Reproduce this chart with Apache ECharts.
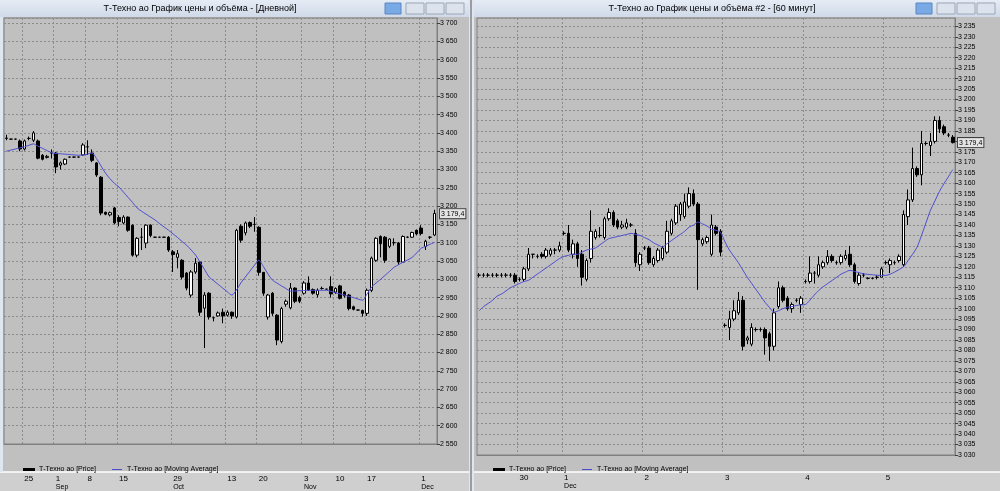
<!DOCTYPE html>
<html>
<head>
<meta charset="utf-8">
<script src="https://cdn.jsdelivr.net/npm/echarts@6/dist/echarts.min.js"></script>
<style>
  html, body { margin: 0; padding: 0; background: #c0c0c0; }
  #chart { width: 1000px; height: 491px; }
</style>
</head>
<body>
<div id="chart"></div>
<script>
// daily candles [open, close, low, high]
var dayCandles = [
  [3385,3386,3380,3395],[3383,3383,3382,3384],[3383,3383,3382,3384],[3378,3356,3350,3382],
  [3356,3378,3352,3382],[3385,3385,3380,3390],[3380,3400,3375,3405],[3378,3331,3328,3382],
  [3339,3328,3325,3342],[3333,3336,3330,3340],[3345,3345,3330,3355],[3345,3307,3290,3348],
  [3312,3318,3300,3322],[3315,3328,3312,3330],[3334,3334,3333,3335],[3334,3334,3333,3335],
  [3334,3334,3333,3335],[3340,3367,3338,3372],[3362,3362,3340,3380],[3345,3325,3320,3355],
  [3318,3285,3280,3320],[3279,3181,3175,3282],[3183,3178,3175,3185],[3176,3182,3172,3185],
  [3195,3154,3150,3198],[3169,3158,3145,3175],[3154,3170,3150,3175],[3170,3134,3130,3172],
  [3148,3066,3062,3150],[3066,3112,3060,3115],[3115,3115,3080,3140],[3099,3148,3085,3150],
  [3148,3120,3115,3150],[3115,3115,3114,3116],[3115,3115,3114,3116],[3115,3115,3114,3116],
  [3115,3080,3075,3118],[3075,3068,3020,3080],[3060,3070,3030,3080],[3052,3006,3000,3055],
  [3017,2976,2970,3020],[2957,3020,2950,3025],[3020,3044,3015,3058],[3047,2910,2900,3050],
  [2921,2957,2812,2965],[2962,2897,2890,2965],[2895,2895,2885,2898],[2900,2908,2898,2912],
  [2910,2900,2880,2920],[2902,2910,2898,2915],[2910,2900,2892,2912],[2897,3134,2893,3138],
  [3145,3107,3100,3150],[3127,3154,3120,3158],[3155,3145,3140,3158],[3150,3150,3130,3170],
  [3142,3019,3010,3145],[3019,2962,2955,3020],[2897,2957,2890,2960],[2962,2907,2900,2965],
  [2902,2834,2820,2905],[2830,2920,2825,2925],[2932,2940,2925,2945],[2922,2976,2918,2990],
  [2976,2940,2935,2978],[2950,2940,2935,2955],[2962,2990,2958,2995],[2990,2971,2968,3008],
  [2972,2962,2958,2975],[2958,2970,2950,2975],[2975,2975,2972,2980],[2973,2973,2972,2974],
  [2980,2960,2950,3008],[2965,2975,2960,2978],[2982,2948,2945,2985],[2965,2955,2950,2968],
  [2957,2920,2915,2960],[2925,2918,2915,2928],[2916,2916,2915,2917],[2915,2907,2898,2917],
  [2907,2970,2900,2975],[2970,3058,2965,3062],[3052,3112,3048,3115],[3117,3097,3060,3120],
  [3115,3052,3045,3118],[3090,3110,3085,3112],[3100,3100,3092,3112],[3099,3047,3040,3102],
  [3047,3117,3045,3120],[3115,3115,3113,3117],[3115,3128,3113,3130],[3134,3124,3120,3136],
  [3140,3125,3120,3148],[3090,3104,3080,3108],[3115,3115,3110,3118],[3121,3180,3118,3190]
];
var dayMA = [
  3350,3353,3356,3359,3362,3366,3370,3364,3358,3352,3346,3344,3343,3342,3341,3340,3339,
  3339,3342,3345,3330,3310,3290,3275,3262,3252,3238,3224,3210,3195,3186,3178,3170,3162,
  3152,3143,3134,3124,3114,3103,3093,3080,3066,3046,3026,3006,2996,2986,2976,2966,2957,
  2970,2990,3006,3022,3038,3052,3035,3015,2998,2990,2982,2975,2968,2968,2969,2969,2970,
  2970,2970,2970,2970,2967,2963,2960,2957,2953,2950,2946,2943,2960,2979,2990,3000,3011,
  3022,3033,3040,3047,3053,3060,3072,3085,3090,3096,3101
];
var dayTickIdx = [4, 11, 18, 25, 37, 49, 56, 66, 73, 80, 92];
var dayTickLbl = ['25', '1', '8', '15', '29', '13', '20', '3', '10', '17', '1'];
var dayMonthIdx = [11, 37, 66, 92];
var dayMonthLbl = ['Sep', 'Oct', 'Nov', 'Dec'];

// hourly candles [open, close, low, high]
var hourCandles = [
  [3116,3116,3115,3117],[3116,3116,3115,3117],[3116,3116,3115,3117],[3116,3116,3115,3117],
  [3116,3116,3115,3117],[3116,3116,3115,3117],[3116,3116,3115,3117],[3116,3116,3115,3117],
  [3116,3113,3112,3117],[3114,3114,3113,3115],[3114,3119,3113,3120],[3119,3126,3118,3129],
  [3126,3126,3124,3126],[3125,3125,3124,3126],[3126,3125,3124,3127],[3125,3128,3124,3129],
  [3126,3128,3125,3129],[3128,3128,3126,3129],[3128,3130,3127,3132],[3136,3136,3135,3137],
  [3136,3128,3127,3140],[3126,3131,3124,3133],[3131,3124,3120,3132],[3126,3115,3111,3128],
  [3114,3123,3113,3124],[3124,3137,3122,3147],[3134,3137,3133,3138],[3135,3135,3134,3139],
  [3134,3143,3133,3144],[3143,3146,3142,3148],[3146,3140,3139,3147],[3142,3139,3138,3143],
  [3139,3140,3138,3142],[3139,3141,3138,3143],[3140,3140,3139,3141],[3136,3122,3120,3138],
  [3121,3126,3118,3127],[3129,3129,3128,3130],[3129,3122,3121,3130],[3121,3124,3120,3125],
  [3123,3128,3122,3129],[3124,3129,3123,3130],[3127,3137,3126,3142],[3136,3142,3135,3143],
  [3141,3149,3140,3150],[3145,3150,3142,3151],[3144,3151,3143,3155],[3149,3155,3148,3158],
  [3155,3150,3149,3157],[3150,3133,3109,3151],[3131,3133,3130,3134],[3132,3134,3131,3135],
  [3126,3140,3125,3145],[3139,3136,3135,3140],[3137,3127,3125,3138],[3092,3092,3091,3093],
  [3091,3095,3085,3099],[3095,3099,3094,3104],[3098,3104,3097,3108],[3104,3082,3080,3106],
  [3085,3086,3083,3087],[3083,3091,3082,3093],[3090,3090,3089,3091],[3090,3090,3089,3091],
  [3090,3086,3078,3091],[3088,3082,3075,3089],[3082,3098,3080,3100],[3101,3110,3100,3113],
  [3110,3104,3103,3111],[3105,3100,3099,3106],[3100,3102,3098,3103],[3104,3104,3103,3105],
  [3102,3105,3098,3106],[3113,3113,3112,3114],[3113,3117,3112,3125],[3117,3117,3112,3118],
  [3116,3121,3115,3125],[3120,3122,3119,3123],[3122,3125,3121,3128],[3125,3123,3122,3126],
  [3122,3122,3121,3123],[3122,3125,3121,3126],[3124,3125.5,3123,3128],[3126,3121,3120,3130],
  [3121,3113,3112,3122],[3112,3116,3111,3117],[3116,3116,3115,3117],[3114.5,3114.5,3114,3115],
  [3114.5,3114.5,3114,3115],[3115,3115,3114,3116],[3115,3119,3115,3120],[3122,3122,3121,3123],
  [3121,3123,3117,3124],[3122,3122,3121,3123],[3123,3125,3122,3126],[3121,3145,3120,3147],
  [3144,3152,3140,3157],[3152,3167,3151,3177],[3167,3164,3163,3168],[3164,3179,3159,3185],
  [3179,3179,3178,3180],[3178,3180,3173,3184],[3180,3190,3179,3192],[3190,3186,3184,3192],
  [3187,3184,3183,3188],[3183,3183,3182,3184],[3182,3179.4,3179,3183]
];
var hourMA = [
  3099,3101,3102.5,3104,3106,3107,3108.5,3110,3111,3112,3113,3113.5,3115,3116.5,3118,
  3119.5,3121,3122.5,3124,3125,3125.5,3126,3126,3127,3128,3128.5,3129,3130.5,3132,3133.5,
  3134,3134.5,3135,3135.5,3136,3135.5,3135,3134,3133,3131.5,3130.5,3129.5,3131,3132.5,3134,
  3135.5,3137,3139,3140,3141.4,3140.5,3139.5,3138,3137.5,3136.5,3132,3128,3125,3122,
  3118.5,3115,3112,3109,3106,3103,3100.5,3098.3,3099,3100,3100.7,3101,3101.5,3101.8,3102,
  3104,3106.5,3108.7,3110.5,3112,3113.5,3115,3116.5,3117.5,3118.3,3117.8,3117.2,3116.7,
  3116.4,3116.2,3116,3115.9,3115.9,3116.5,3117.5,3118.7,3120,3123,3126,3129.4,3135,3141,
  3147,3151.5,3156,3159.7,3163,3166.5
];
var hourTickIdx = [9, 19, 37, 55, 73, 91];
var hourTickLbl = ['30', '1', '2', '3', '4', '5'];
var hourMonthIdx = [19];
var hourMonthLbl = ['Dec'];
var lastPrice = 3179.4;

var font = 'Liberation Sans';
var priceName = 'Т-Техно ао [Price]';
var maName = 'Т-Техно ао [Moving Average]';

function fmt(v) {
  var s = String(Math.round(v));
  return s.length > 3 ? s.slice(0, s.length - 3) + ' ' + s.slice(-3) : s;
}
function lookup(idx, lbl) {
  var m = {};
  idx.forEach(function (k, i) { m[k] = lbl[i]; });
  return m;
}

function panel(n, candles, ma, tickIdx, tickLbl, monIdx, monLbl, yMin, yMax, labelMargin, monMargin) {
  var cats = candles.map(function (d, i) { return String(i); });
  var days = lookup(tickIdx, tickLbl);
  var mons = lookup(monIdx, monLbl);
  var xa = [{
    type: 'category', gridIndex: n, data: cats, boundaryGap: true,
    axisLine: { lineStyle: { color: '#808080' } },
    axisTick: { show: false },
    axisLabel: {
      interval: 0, margin: labelMargin, color: '#000', fontSize: 8, fontFamily: font, align: 'left',
      formatter: function (v, i) { return days[i] || ''; }
    },
    splitLine: {
      show: true,
      interval: function (i) { return days[i] !== undefined; },
      lineStyle: { color: '#8c8c8c', type: [2, 2], width: 1 }
    }
  }, {
    type: 'category', gridIndex: n, data: cats, boundaryGap: true, position: 'bottom',
    axisLine: { show: false }, axisTick: { show: false },
    axisLabel: {
      interval: 0, margin: monMargin, color: '#000', fontSize: 7, fontFamily: font, align: 'left',
      formatter: function (v, i) { return mons[i] || ''; }
    }
  }];
  var ya = {
    type: 'value', gridIndex: n, position: 'right', min: yMin, max: yMax,
    interval: n === 0 ? 50 : 5,
    axisLine: { show: true, lineStyle: { color: '#808080' } },
    axisTick: { show: true, length: 3, lineStyle: { color: '#404040' } },
    axisLabel: {
      showMaxLabel: false, margin: 3, color: '#000', fontSize: 7, fontFamily: font,
      formatter: fmt
    },
    splitLine: { lineStyle: { color: '#8c8c8c', type: [2, 2], width: 1 } }
  };
  var series = [{
    name: priceName, type: 'candlestick',
    xAxisIndex: n * 2, yAxisIndex: n, data: candles, barWidth: 3,
    itemStyle: { color: '#ffffff', color0: '#000000', borderColor: '#000000', borderColor0: '#000000', borderWidth: 1 }
  }, {
    name: maName, type: 'line',
    xAxisIndex: n * 2, yAxisIndex: n, data: ma, symbol: 'none', smooth: 0.3,
    lineStyle: { color: '#4d4dd0', width: 1 }, itemStyle: { color: '#4d4dd0' },
    markLine: {
      symbol: 'none', silent: true,
      lineStyle: { color: 'rgba(0,0,0,0)', width: 0 },
      label: {
        show: true, position: 'end', distance: 3, color: '#000', fontSize: 7, fontFamily: font,
        backgroundColor: '#e4e4e4', borderColor: '#404040', borderWidth: 1, padding: [1, 1],
        formatter: function () { return fmt(lastPrice) + ',' + String(lastPrice).split('.')[1]; }
      },
      data: [{ yAxis: lastPrice }]
    }
  }];
  return { xa: xa, ya: ya, series: series };
}

var L = panel(0, dayCandles, dayMA, dayTickIdx, dayTickLbl, dayMonthIdx, dayMonthLbl, 2550, 3714, 31, 40);
var R = panel(1, hourCandles, hourMA, hourTickIdx, hourTickLbl, hourMonthIdx, hourMonthLbl, 3030, 3239, 19, 28);

function titleBar(x, w, text, cx) {
  return [
    { type: 'rect', shape: { x: x, y: 0, width: w, height: 17 },
      style: { fill: new echarts.graphic.LinearGradient(0, 0, 0, 1, [{ offset: 0, color: '#e6ecf5' }, { offset: 1, color: '#cfd9e8' }]) } },
    { type: 'text', x: cx, y: 9, style: { text: text, fill: '#000', font: '9px ' + font, textAlign: 'center', textVerticalAlign: 'middle' } },
    { type: 'rect', shape: { x: x + w - 84, y: 3, width: 16, height: 11 }, style: { fill: '#7aaae6', stroke: '#5b86c0' } },
    { type: 'rect', shape: { x: x + w - 63, y: 3, width: 18, height: 11 }, style: { fill: '#dde3ec', stroke: '#9aa6b6' } },
    { type: 'rect', shape: { x: x + w - 43, y: 3, width: 18, height: 11 }, style: { fill: '#dde3ec', stroke: '#9aa6b6' } },
    { type: 'rect', shape: { x: x + w - 23, y: 3, width: 18, height: 11 }, style: { fill: '#dde3ec', stroke: '#9aa6b6' } }
  ];
}
function bottomBar(x, w) {
  return [
    { type: 'rect', z: -1, shape: { x: x, y: 472, width: w, height: 19 }, style: { fill: '#cfcfcf' } },
    { type: 'line', z: -1, shape: { x1: x, y1: 472, x2: x + w, y2: 472 }, style: { stroke: '#ffffff', lineWidth: 1.5 } }
  ];
}

var graphics = [].concat(
  titleBar(0, 469, 'Т-Техно ао График цены и объёма - [Дневной]', 200),
  titleBar(474, 526, 'Т-Техно ао График цены и объёма #2 - [60 минут]', 712),
  bottomBar(0, 469), bottomBar(474, 526),
  [
    { type: 'rect', z: -1, shape: { x: 469, y: 0, width: 5, height: 491 }, style: { fill: '#dfe6ef' } },
    { type: 'line', shape: { x1: 471, y1: 0, x2: 471, y2: 491 }, style: { stroke: '#555', lineWidth: 1 } },
    { type: 'rect', z: -1, shape: { x: 0, y: 17, width: 3, height: 455 }, style: { fill: '#dfe6ef' } }
  ]
);

function legendAt(left) {
  return {
    left: left, top: 461, itemWidth: 10, itemHeight: 1, itemGap: 16, icon: 'rect',
    textStyle: { fontSize: 7, fontFamily: font, color: '#000' },
    data: [{ name: priceName, itemStyle: { color: '#000' } }, { name: maName, itemStyle: { color: '#4d4dd0' } }]
  };
}

var option = {
  backgroundColor: '#c0c0c0',
  animation: false,
  graphic: graphics,
  legend: [legendAt(18), legendAt(488)],
  grid: [
    { left: 4, right: 563, top: 18, bottom: 47, show: true, borderColor: '#808080', backgroundColor: '#c0c0c0' },
    { left: 477, right: 45, top: 18, bottom: 36, show: true, borderColor: '#808080', backgroundColor: '#c0c0c0' }
  ],
  xAxis: L.xa.concat(R.xa),
  yAxis: [L.ya, R.ya],
  series: L.series.concat(R.series)
};

var myChart = echarts.init(document.getElementById('chart'));
myChart.setOption(option);
</script>
</body>
</html>
